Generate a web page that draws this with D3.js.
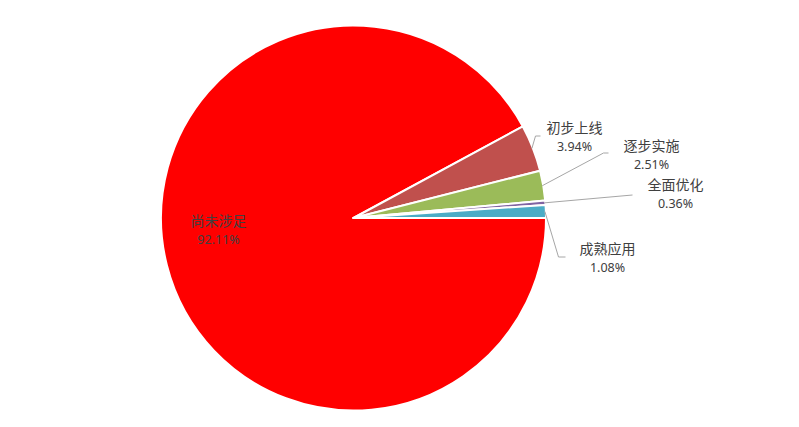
<!DOCTYPE html>
<html><head><meta charset="utf-8">
<script src="https://cdn.jsdelivr.net/npm/d3@7"></script>
<style>body{margin:0;background:#fff}svg{display:block}</style>
</head><body>
<svg id="chart" width="799" height="427"></svg>
<script>
const categories = ["尚未涉足", "初步上线", "逐步实施", "全面优化", "成熟应用"];
const values = [92.11, 3.94, 2.51, 0.36, 1.08];
const colors = ["#ff0000", "#c0504d", "#9bbb59", "#8064a2", "#4bacc6"];
// label centre offsets from pie centre (layout only)
const labelOffsets = [[-135, 12], [221, -81], [298, -63], [322, -24], [254, 40]];
// leader bend points relative to label centre: [elbowDx, elbowDy, endDx, endDy]
const leaders = [null, [-39, -1, -34, -1], [-48, -2, -43, -2], [-43, 1, -43, 1], [-49, -1, -42, -1]];

const cx = 353.5, cy = 218, r = 192.5;
const svg = d3.select("#chart");
const g = svg.append("g").attr("transform", `translate(${cx},${cy})`);

const data = categories.map((c, i) => ({name: c, value: values[i], i}));
const pie = d3.pie().sort(null).value(d => d.value)
  .startAngle(Math.PI / 2).endAngle(Math.PI / 2 + 2 * Math.PI);
const arcs = pie(data);
const arc = d3.arc().innerRadius(0).outerRadius(r);

g.selectAll("path.slice").data(arcs).join("path")
  .attr("class", "slice")
  .attr("d", arc)
  .attr("fill", d => colors[d.data.i])
  .attr("stroke", "#fff").attr("stroke-width", 2).attr("stroke-linejoin", "round");

const fmt = v => v.toFixed(2) + "%";

// leader lines
arcs.forEach(d => {
  const ld = leaders[d.data.i];
  if (!ld) return;
  const a = (d.startAngle + d.endAngle) / 2;
  const sx = Math.sin(a) * (r - 1), sy = -Math.cos(a) * (r - 1);
  const [lx, ly] = labelOffsets[d.data.i];
  g.append("path")
    .attr("d", d3.line()([[sx, sy], [lx + ld[0], ly + ld[1]], [lx + ld[2], ly + ld[3]]]))
    .attr("fill", "none").attr("stroke", "#a6a6a6").attr("stroke-width", 1);
});

const labels = g.selectAll("g.lab").data(arcs).join("g")
  .attr("class", "lab")
  .attr("transform", d => `translate(${labelOffsets[d.data.i][0]},${labelOffsets[d.data.i][1]})`);
labels.append("text")
  .attr("text-anchor", "middle").attr("y", -4)
  .attr("font-family", "'Noto Sans CJK SC', 'Noto Sans', sans-serif")
  .attr("font-size", 14).attr("fill", "#404040")
  .text(d => d.data.name);
labels.append("text")
  .attr("text-anchor", "middle").attr("y", 14)
  .attr("font-family", "'Noto Sans', 'Noto Sans CJK SC', sans-serif")
  .attr("font-size", 12.5).attr("fill", "#404040")
  .text(d => fmt(d.data.value));
</script>
</body></html>
